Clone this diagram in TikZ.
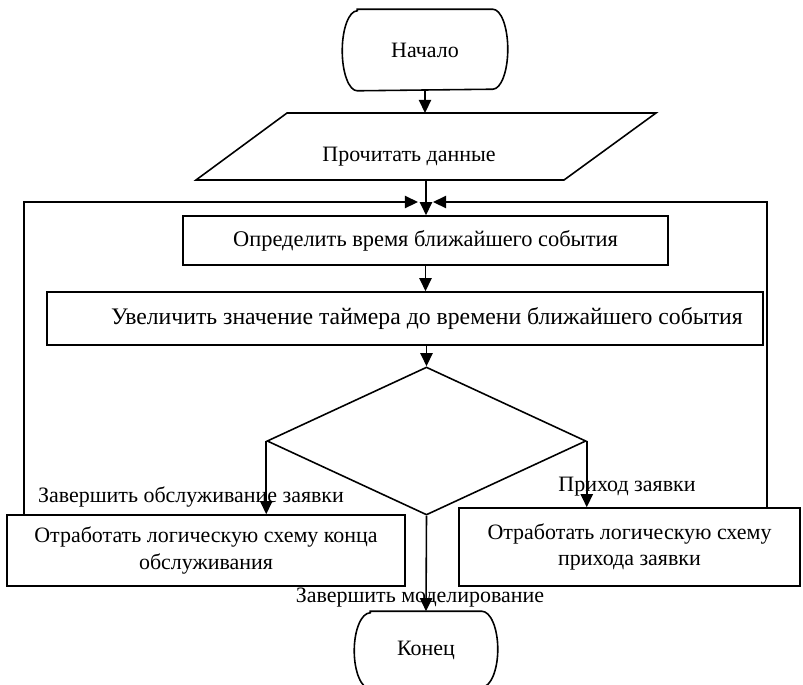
\documentclass[tikz,border=0pt]{standalone}
\usepackage{fontspec}
\setmainfont{Liberation Serif}
\usetikzlibrary{arrows.meta,shapes.geometric}
\begin{document}
\begin{tikzpicture}[x=0.02cm, y=-0.02cm, line width=0.9pt, font=\fontsize{12.5}{15}\selectfont,
		box/.style = {draw, rectangle, inner sep=0pt, align=center},
		arr/.style = {-{Triangle[width=7pt,length=7.5pt]}},
		txt/.style = {inner sep=0pt}]
		\useasboundingbox (0,0) rectangle (803,684);
		
		\node[txt, minimum width=3.28cm, minimum height=1.6cm] (start) at (425,50) {Начало};
		\draw ([xshift=0.3cm]start.north west) -- ([xshift=-0.3cm]start.north east)
			arc[start angle=90, end angle=-90, x radius=0.3cm, y radius=0.8cm]
			-- ([xshift=0.3cm]start.south west)
			arc[start angle=270, end angle=90, x radius=0.3cm, y radius=0.8cm] -- cycle;
		
		\coordinate (rdtop) at (425,113);
		\coordinate (rdbot) at (426,180);
		\draw (196,180) -- (287,113) -- (656,113) -- (564,180) -- cycle;
		\node[txt] (read) at (409,157) {Прочитать данные};
		
		\node[box, minimum width=9.7cm, minimum height=0.98cm, font=\fontsize{12.75}{15}\selectfont] (near) at (425.5,240.5) {Определить время ближайшего события};
		\node[box, minimum width=14.32cm, minimum height=1.06cm, font=\fontsize{13.5}{16}\selectfont] (timer) at (405,318.5) {\hspace*{0.88cm}Увеличить значение таймера до времени ближайшего события};
		\node[draw, diamond, inner sep=0pt, minimum width=6.38cm, minimum height=2.96cm] (choice) at (426.5,441) {};
		\node[box, minimum width=7.96cm, minimum height=1.42cm] (endsrv) at (206,550.5) {Отработать логическую схему конца\\обслуживания};
		\node[box, minimum width=6.82cm, minimum height=1.56cm] (arrive) at (629.5,547) {Отработать логическую схему\\прихода заявки};
		
		\node[txt, minimum width=2.84cm, minimum height=1.52cm] (stop) at (426,650) {Конец};
		\draw ([xshift=0.32cm]stop.north west) -- ([xshift=-0.32cm]stop.north east)
			arc[start angle=90, end angle=-90, x radius=0.32cm, y radius=0.76cm]
			-- ([xshift=0.32cm]stop.south west)
			arc[start angle=270, end angle=90, x radius=0.32cm, y radius=0.76cm] -- cycle;
		
		\coordinate (lloop) at (24,202);
		\coordinate (rloop) at (767,202);
		\coordinate (lin) at (418,202);
		\coordinate (rin) at (433,202);
		
		\draw[arr] (start.south) -- (rdtop);
		\draw[arr] (rdbot) -- (rdbot |- near.north);
		\draw[arr] (near.south) -- (near.south |- timer.north);
		\draw[arr] (timer.south -| choice.north) -- (choice.north);
		\draw[arr] (choice.west) -- (choice.west |- endsrv.north);
		\draw[arr] (choice.east) -- (choice.east |- arrive.north);
		\draw[arr] (choice.south) -- (stop.north);
		\draw[arr] (endsrv.north -| lloop) -- (lloop) -- (lin);
		\draw[arr] (arrive.north -| rloop) -- (rloop) -- (rin);
		
		\node[txt] (lbl1) at (191,497) {Завершить обслуживание заявки};
		\node[txt] (lbl2) at (627,487) {Приход заявки};
		\node[txt] (lbl3) at (420,598) {Завершить моделирование};
	\end{tikzpicture}
\end{document}
